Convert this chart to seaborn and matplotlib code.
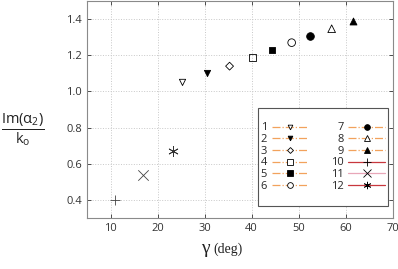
import seaborn as sns
import matplotlib.pyplot as plt
from matplotlib.lines import Line2D

# data
labels = ['1', '2', '3', '4', '5', '6', '7', '8', '9', '10', '11', '12']
gamma = [25.3, 30.5, 35.3, 40.1, 44.3, 48.5, 52.5, 57.0, 61.5, 10.9, 17.0, 23.2]
im_alpha = [1.05, 1.10, 1.14, 1.187, 1.228, 1.27, 1.308, 1.347, 1.388, 0.40, 0.54, 0.668]
markers = ['v', 'v', 'D', 's', 's', 'o', 'o', '^', '^', '+', 'x', (6, 2, 0)]
filled = [False, True, False, False, True, False, True, False, True, True, True, True]
sizes = [4.5, 4.5, 4.0, 5.0, 5.0, 5.5, 5.5, 5.5, 5.0, 7.0, 7.5, 7.0]
point_colors = ['black'] * 9 + ['#444444', '#444444', '#333333']
line_colors = ['#f2a25c'] * 9 + ['#c8373d', '#e8a7b8', '#c8373d']
line_styles = ['-.'] * 9 + ['-', '-', '-']

sns.set_style('white')
plt.rcParams['font.family'] = ['Open Sans', 'DejaVu Sans']
plt.rcParams['mathtext.fontset'] = 'custom'
plt.rcParams['mathtext.rm'] = 'Open Sans'
plt.rcParams['mathtext.it'] = 'Open Sans'

fig = plt.figure(figsize=(3.98, 2.69), dpi=100)
ax = fig.add_axes([0.2186, 0.1896, 0.7684, 0.8064])

for i in range(len(labels)):
    face = point_colors[i] if filled[i] else 'none'
    sns.scatterplot(x=[gamma[i]], y=[im_alpha[i]], ax=ax, marker=markers[i],
                    s=sizes[i] ** 2, facecolor=face, edgecolor=point_colors[i],
                    color=point_colors[i], linewidth=0.6, zorder=3)

ax.set_xlim(5, 70)
ax.set_ylim(0.3, 1.5)
ax.set_xticks([10, 20, 30, 40, 50, 60, 70])
ax.set_yticks([0.4, 0.6, 0.8, 1.0, 1.2, 1.4])
ax.set_yticklabels(['0.4', '0.6', '0.8', '1.0', '1.2', '1.4'])
ax.grid(True, linestyle=':', color='#c8c8c8', linewidth=0.7)
ax.tick_params(direction='in', length=3, labelsize=8, colors='#333333',
               right=True, top=True, bottom=True, left=True, width=0.6)
for sp in ax.spines.values():
    sp.set_color('#8a8a8a')
    sp.set_linewidth(0.8)
ax.set_xlabel('')
ax.set_ylabel('')

# legend: two columns of six, with an empty row below each column
handles = []
for i in range(len(labels)):
    face = 'black' if filled[i] else 'white'
    handles.append(Line2D([0], [0], color=line_colors[i], linestyle=line_styles[i],
                          linewidth=0.9, marker=markers[i], markersize=sizes[i] * 0.75,
                          markerfacecolor=face, markeredgecolor='black',
                          markeredgewidth=0.6))
blank = Line2D([], [], linestyle='none')
leg_handles = handles[:6] + [blank] + handles[6:] + [blank]
leg_labels = labels[:6] + [''] + labels[6:] + ['']
leg = ax.legend(leg_handles, leg_labels, ncol=2, loc='upper left',
                bbox_to_anchor=(0.559, 0.507, 0.425, 0), mode='expand',
                borderaxespad=0, markerfirst=False, title=' ', title_fontsize=8,
                fontsize=8, handlelength=3.3, handletextpad=0.4, columnspacing=0.8,
                labelspacing=0.06, borderpad=0.25, frameon=True, fancybox=False,
                edgecolor='#555555', framealpha=1)
leg.get_frame().set_linewidth(0.8)

# y label as a fraction
fig.text(0.058, 0.52, r'$\frac{\mathrm{Im}(\alpha_2)}{\mathrm{k_o}}$',
         fontsize=15, ha='center', va='center', color='#222222')

# x label
fig.text(0.527, 0.075, 'γ', fontsize=14, family='Liberation Serif',
         ha='right', va='center', color='#222222')
fig.text(0.537, 0.075, '(deg)', fontsize=10, family='Liberation Serif',
         ha='left', va='center', color='#222222')

fig.savefig('out.png', dpi=100)
